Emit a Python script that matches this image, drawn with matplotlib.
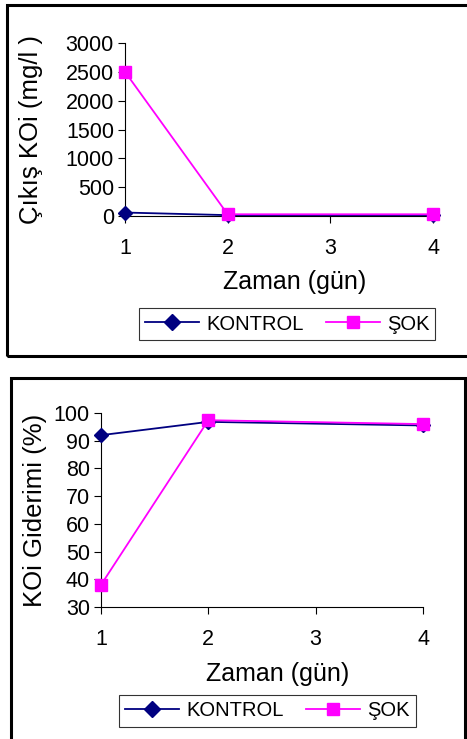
import matplotlib.pyplot as plt
from matplotlib.patches import Rectangle
from matplotlib.lines import Line2D

plt.rcParams['font.family'] = ['Liberation Sans', 'DejaVu Sans']

# data
gun = [1, 2, 4]
cikis_kontrol = [60, 15, 15]
cikis_sok = [2500, 30, 30]
giderim_kontrol = [92, 96.8, 95.5]
giderim_sok = [38, 97.4, 96]

W, H = 467, 739
NAVY = '#000080'
MAG = '#FF00FF'

fig = plt.figure(figsize=(W / 100, H / 100), dpi=100)


def px_box(l, t, r, b):
    # pixel box -> figure fraction [left, bottom, width, height]
    return [l / W, 1 - b / H, (r - l) / W, (b - t) / H]


def frame(l, t, r, b, lw):
    fig.add_artist(Rectangle((l / W, 1 - b / H), (r - l) / W, (b - t) / H,
                             transform=fig.transFigure, fill=False,
                             edgecolor='black', linewidth=lw))


def panel(box, y1, y2, yticks, ylim, ylabel, xlab_y, ylab_x, leg_center):
    ax = fig.add_axes(px_box(*box))
    ax.plot(gun, y1, color=NAVY, marker='D', markersize=7, lw=1.3,
            clip_on=False, zorder=3)
    ax.plot(gun, y2, color=MAG, marker='s', markersize=8, lw=1.3,
            clip_on=False, zorder=4)
    ax.set_xlim(1, 4)
    ax.set_ylim(*ylim)
    ax.set_xticks([1, 2, 3, 4])
    ax.set_yticks(yticks)
    for s in ['top', 'right']:
        ax.spines[s].set_visible(False)
    for s in ['left', 'bottom']:
        ax.spines[s].set_linewidth(0.8)
    ax.tick_params(axis='both', labelsize=15.5, length=5, width=0.8)
    ax.tick_params(axis='x', pad=11)
    ax.tick_params(axis='y', pad=3)
    ax.set_xlabel('Zaman (gün)', fontsize=18)
    ax.set_ylabel(ylabel, fontsize=18.5)
    ax.xaxis.set_label_coords(0.55, xlab_y)
    ax.yaxis.set_label_coords(ylab_x, 0.5)
    handles = [Line2D([], [], color=NAVY, marker='D', markersize=8, lw=1.3),
               Line2D([], [], color=MAG, marker='s', markersize=9, lw=1.3)]
    leg = fig.legend(handles, ['KONTROL', 'ŞOK'], ncol=2, loc='center',
                     bbox_to_anchor=(leg_center[0] / W, 1 - leg_center[1] / H),
                     fontsize=14.5, frameon=True, fancybox=False,
                     edgecolor='black', handlelength=2.7, handletextpad=0.35,
                     columnspacing=1.1, borderpad=0.3)
    leg.get_frame().set_linewidth(0.8)
    return ax


frame(7, 5, 472, 356, 2.2)
frame(10.5, 377.5, 465, 750, 2.2)

panel((125, 43, 433, 216), cikis_kontrol, cikis_sok,
      [0, 500, 1000, 1500, 2000, 2500, 3000], (0, 3000),
      'Çıkış KOi (mg/l )', -0.31, -0.266, (287, 324))

panel((101, 413, 423, 607), giderim_kontrol, giderim_sok,
      [30, 40, 50, 60, 70, 80, 90, 100], (30, 100),
      'KOi Giderimi (%)', -0.285, -0.168, (267.5, 711))

fig.savefig('out.png', dpi=100)
